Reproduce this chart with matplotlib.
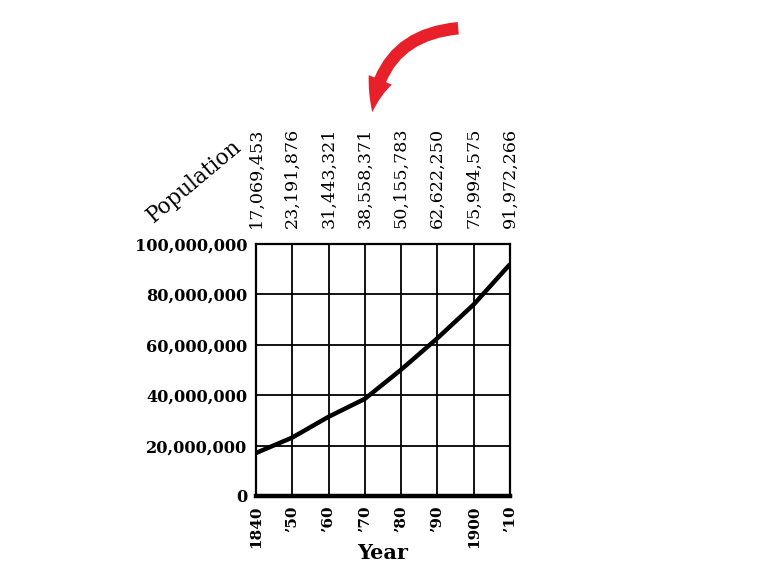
"""Population growth chart, 1840-1910, old textbook style."""

import matplotlib

matplotlib.use("Agg")
import matplotlib.pyplot as plt  # noqa: E402
from matplotlib.patches import FancyArrowPatch  # noqa: E402
from matplotlib.transforms import blended_transform_factory  # noqa: E402

years = [1840, 1850, 1860, 1870, 1880, 1890, 1900, 1910]
population = [17069453, 23191876, 31443321, 38558371,
              50155783, 62622250, 75994575, 91972266]
year_labels = ["1840", "\u201950", "\u201960", "\u201970",
               "\u201980", "\u201990", "1900", "\u201910"]
pop_labels = ["17,069,453", "23,191,876", "31,443,321", "38,558,371",
              "50,155,783", "62,622,250", "75,994,575", "91,972,266"]
y_ticks = [0, 20000000, 40000000, 60000000, 80000000, 100000000]
y_tick_labels = ["0", "20,000,000", "40,000,000", "60,000,000",
                 "80,000,000", "100,000,000"]

SERIF = "DejaVu Serif"

fig = plt.figure(figsize=(7.68, 5.87), dpi=100)
ax = fig.add_axes([256 / 768, 1 - 496 / 587, 254 / 768, 252 / 587])

ax.plot(years, population, color="black", linewidth=3.2,
        solid_capstyle="butt", zorder=3)

ax.set_xlim(years[0], years[-1])
ax.set_ylim(0, 100000000)
ax.set_xticks(years)
ax.set_xticklabels(year_labels, rotation=90, fontsize=11,
                   fontweight="bold", family=SERIF)
ax.set_yticks(y_ticks)
ax.set_yticklabels(y_tick_labels, fontsize=11.6, fontweight="bold", family=SERIF)
ax.tick_params(length=0, pad=6)
ax.tick_params(axis="x", pad=7)

ax.grid(True, color="black", linewidth=1.3)
ax.set_axisbelow(True)
for side in ["top", "left", "right"]:
    ax.spines[side].set_linewidth(1.6)
ax.spines["bottom"].set_linewidth(3.2)

ax.set_xlabel("Year", fontsize=15, fontweight="bold", family=SERIF, labelpad=-4)

# population values above each column line
trans = blended_transform_factory(ax.transData, ax.transAxes)
for yr, lab in zip(years, pop_labels):
    ax.text(yr, 1.065, lab, rotation=90, ha="center", va="bottom",
            fontsize=12.6, family=SERIF, transform=trans)

fig.text(0.253, 0.692, "Population", rotation=40, ha="center", va="center",
         fontsize=15.5, family=SERIF, rotation_mode="anchor")

# red hand-drawn style arrow pointing at 1870
arrow = FancyArrowPatch(
    (461 / 768, 1 - 28 / 587), (372 / 768, 1 - 115 / 587),
    transform=fig.transFigure, connectionstyle="arc3,rad=0.42",
    arrowstyle="simple,head_width=1.5,head_length=2.0,tail_width=0.75",
    mutation_scale=12, color="#e8202a", linewidth=0,
)
fig.patches.append(arrow)

fig.savefig("out.png", dpi=100, facecolor="white")
